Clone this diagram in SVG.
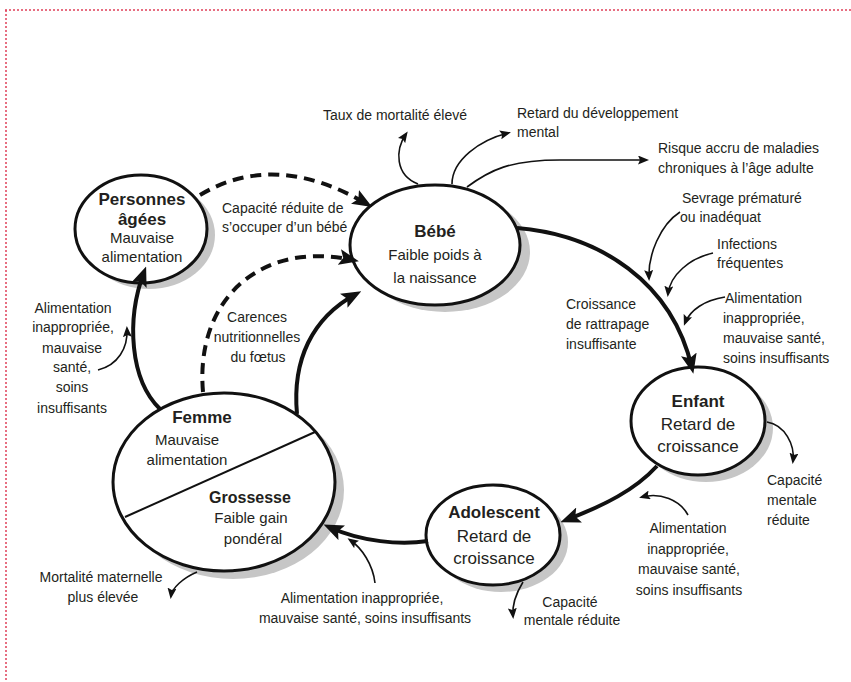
<svg xmlns="http://www.w3.org/2000/svg" width="851" height="682" viewBox="0 0 851 682">
<style>
text{font-family:"Liberation Sans",Arial,sans-serif;fill:#231f20}
.t{font-size:14px}
.tc{font-size:14px;text-anchor:middle}
.n{font-size:15px;text-anchor:middle}
.nl{font-size:17px;text-anchor:middle}
.b{font-size:17px;font-weight:bold;text-anchor:middle}
.sh{fill:#c6c6c6}
.el{fill:#fff;stroke:#111;stroke-width:3}
.thick{fill:none;stroke:#111;stroke-width:4;marker-end:url(#big)}
.dash{fill:none;stroke:#111;stroke-width:4;stroke-dasharray:11 7;marker-end:url(#big)}
.thin{fill:none;stroke:#111;stroke-width:1.6;marker-end:url(#small)}
</style>
<defs>
<marker id="big" viewBox="0 0 20 16" refX="14" refY="8" markerWidth="20" markerHeight="16" markerUnits="userSpaceOnUse" orient="auto"><path d="M0,0 L20,8 L0,16 L4,8 z" fill="#111"/></marker>
<marker id="small" viewBox="0 0 11 9" refX="8" refY="4.5" markerWidth="11" markerHeight="9" markerUnits="userSpaceOnUse" orient="auto"><path d="M0,0 L11,4.5 L0,9 L2,4.5 z" fill="#111"/></marker>
</defs>
<rect width="851" height="682" fill="#fff"/>
<path d="M5,10 H851 M6,10 V682" fill="none" stroke="#e0405a" stroke-width="1.5" stroke-dasharray="2 2"/>

<g id="personnes">
<ellipse class="sh" cx="149" cy="235" rx="66" ry="54"/>
<ellipse class="el" cx="141" cy="229" rx="66" ry="54"/>
<text class="b" x="142" y="205">Personnes</text>
<text class="b" x="142" y="225">âgées</text>
<text class="n" x="142" y="243">Mauvaise</text>
<text class="n" x="142" y="262">alimentation</text>
</g>

<g id="bebe">
<ellipse class="sh" cx="445" cy="252" rx="85" ry="60"/>
<ellipse class="el" cx="435" cy="245" rx="85" ry="60"/>
<text class="b" x="435" y="237">Bébé</text>
<text class="n" x="435" y="260">Faible poids à</text>
<text class="n" x="435" y="283">la naissance</text>
</g>

<g id="enfant">
<ellipse class="sh" cx="706" cy="428" rx="67" ry="54"/>
<ellipse class="el" cx="698" cy="421" rx="67" ry="54"/>
<text class="b" x="698" y="407">Enfant</text>
<text class="nl" x="698" y="430">Retard de</text>
<text class="nl" x="698" y="452">croissance</text>
</g>

<g id="adolescent">
<ellipse class="sh" cx="501" cy="542" rx="67" ry="50"/>
<ellipse class="el" cx="493" cy="535" rx="67" ry="50"/>
<text class="b" x="494" y="518">Adolescent</text>
<text class="nl" x="494" y="542">Retard de</text>
<text class="nl" x="494" y="564">croissance</text>
</g>

<g id="femme">
<ellipse class="sh" cx="233" cy="490" rx="111" ry="89"/>
<ellipse class="el" cx="224" cy="482" rx="111" ry="89"/>
<line x1="315" y1="432" x2="125" y2="517" stroke="#111" stroke-width="2"/>
<text class="b" x="202" y="423">Femme</text>
<text class="n" x="187" y="445">Mauvaise</text>
<text class="n" x="187" y="465">alimentation</text>
<text class="b" x="250" y="503" style="font-size:16px">Grossesse</text>
<text class="n" x="251" y="523">Faible gain</text>
<text class="n" x="253" y="544">pondéral</text>
</g>

<g id="connectors">
<path class="thick" d="M517,228 C600,235 672,282 692,368"/>
<path class="thick" d="M657,466 C635,490 605,505 566,520"/>
<path class="thick" d="M428,541 C400,545 362,542 329,527"/>
<path class="thick" d="M297,414 C292,360 312,318 356,294"/>
<path class="thick" d="M160,409 C130,380 126,320 144,272"/>
<path class="dash" d="M200,195 Q275,150 367,204"/>
<path class="dash" d="M203,392 C195,300 260,240 353,260"/>
<path class="thin" d="M418,184 C395,175 395,150 406,134"/>
<path class="thin" d="M452,184 C452,160 480,140 508,133"/>
<path class="thin" d="M467,187 C490,170 510,160 560,160 L646,160"/>
<path class="thin" d="M680,212 C660,225 648,255 649,278"/>
<path class="thin" d="M713,253 C690,258 670,275 668,294"/>
<path class="thin" d="M725,297 C705,300 690,310 685,323"/>
<path class="thin" d="M767,422 C785,425 795,445 793,461"/>
<path class="thin" d="M688,515 C680,500 660,492 642,497"/>
<path class="thin" d="M523,582 C515,595 512,605 513,616"/>
<path class="thin" d="M375,583 C373,565 362,548 350,540"/>
<path class="thin" d="M197,572 C183,578 172,588 171,596"/>
<path class="thin" d="M98,370 C118,365 128,348 127,329"/>
</g>

<g id="labels">
<text class="t" x="323" y="120">Taux de mortalité élevé</text>
<text class="t" x="517" y="118">Retard du développement</text>
<text class="t" x="517" y="137">mental</text>
<text class="t" x="658" y="153">Risque accru de maladies</text>
<text class="t" x="658" y="173">chroniques à l’âge adulte</text>
<text class="t" x="682" y="203">Sevrage prématuré</text>
<text class="t" x="680" y="222">ou inadéquat</text>
<text class="t" x="717" y="249">Infections</text>
<text class="t" x="717" y="268">fréquentes</text>
<text class="t" x="725" y="303">Alimentation</text>
<text class="t" x="723" y="323">inappropriée,</text>
<text class="t" x="723" y="343">mauvaise santé,</text>
<text class="t" x="723" y="363">soins insuffisants</text>
<text class="t" x="566" y="309">Croissance</text>
<text class="t" x="566" y="329">de rattrapage</text>
<text class="t" x="566" y="349">insuffisante</text>
<text class="t" x="767" y="485">Capacité</text>
<text class="t" x="767" y="505">mentale</text>
<text class="t" x="767" y="525">réduite</text>
<text class="tc" x="688" y="533">Alimentation</text>
<text class="tc" x="688" y="554">inappropriée,</text>
<text class="tc" x="689" y="574">mauvaise santé,</text>
<text class="tc" x="689" y="595">soins insuffisants</text>
<text class="tc" x="570" y="607">Capacité</text>
<text class="tc" x="572" y="625">mentale réduite</text>
<text class="tc" x="362" y="603">Alimentation inappropriée,</text>
<text class="tc" x="365" y="623">mauvaise santé, soins insuffisants</text>
<text class="tc" x="101" y="582">Mortalité maternelle</text>
<text class="tc" x="103" y="602">plus élevée</text>
<text class="tc" x="73" y="313">Alimentation</text>
<text class="tc" x="73" y="332">inappropriée,</text>
<text class="tc" x="72" y="353">mauvaise</text>
<text class="tc" x="72" y="372">santé,</text>
<text class="tc" x="72" y="392">soins</text>
<text class="tc" x="72" y="413">insuffisants</text>
<text class="tc" x="257" y="322">Carences</text>
<text class="tc" x="257" y="342">nutritionnelles</text>
<text class="tc" x="258" y="362">du fœtus</text>
<text class="t" x="222" y="213">Capacité réduite de</text>
<text class="t" x="222" y="232">s’occuper d’un bébé</text>
</g>
</svg>
